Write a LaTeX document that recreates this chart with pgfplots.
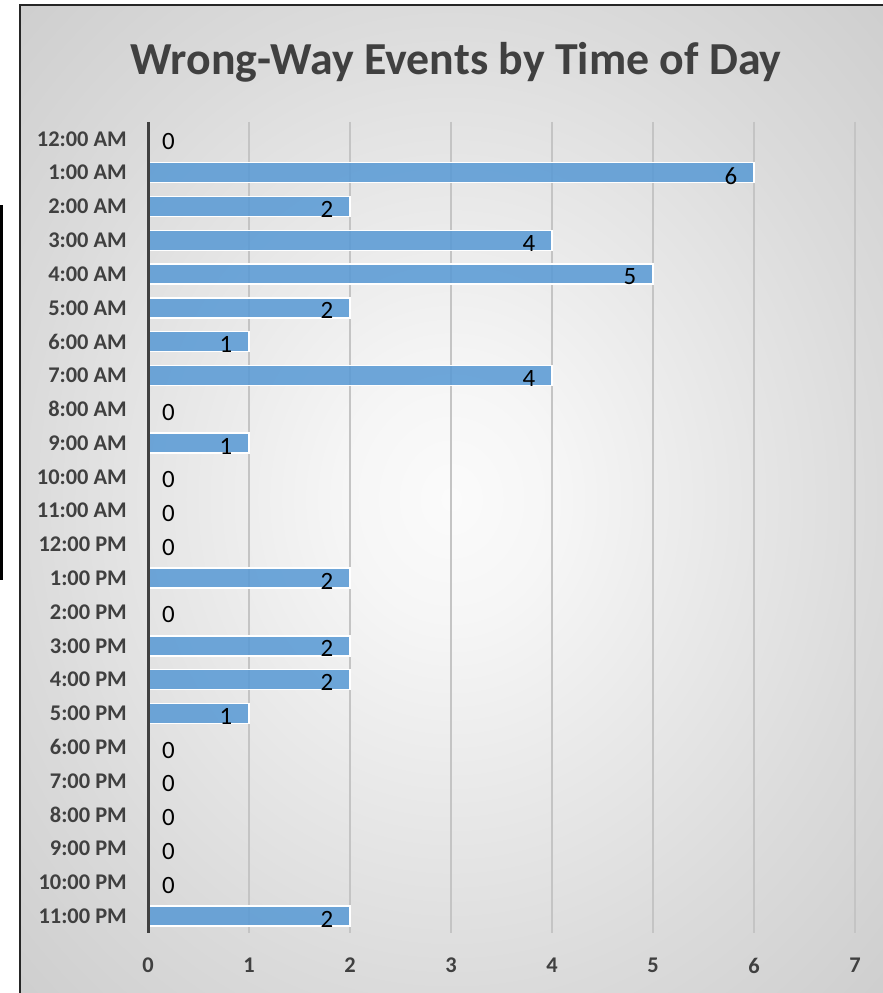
\documentclass[border=0pt]{standalone}
\usepackage{fontspec}
\setmainfont{Carlito}
\usepackage{pgfplots}
\pgfplotsset{compat=1.18}
\definecolor{txt}{HTML}{404040}
\definecolor{barblue}{HTML}{5B9BD5}
\definecolor{gridc}{HTML}{C4C4C4}
\definecolor{s0}{RGB}{251,251,251}
\definecolor{s1}{RGB}{246,246,246}
\definecolor{s2}{RGB}{233,233,233}
\definecolor{s3}{RGB}{219,219,219}
\definecolor{s4}{RGB}{207,207,207}
\definecolor{s5}{RGB}{198,198,198}
\definecolor{s6}{RGB}{189,189,189}
\pgfdeclareradialshading{bgshade}{\pgfpointorigin}{color(0bp)=(s0); color(6bp)=(s1); color(15bp)=(s2); color(25bp)=(s3); color(35bp)=(s4); color(50bp)=(s5); color(71bp)=(s6)}
\pgfplotsset{/pgf/number format/assume math mode=true}
\begin{document}
\begin{tikzpicture}[x=1bp,y=1bp]
\useasboundingbox (0,0) rectangle (883,993);
\shade[shading=bgshade] (19.5,0) rectangle (883,987.5);
\draw[line width=2bp, black!85] (19.5,0) -- (19.5,987.5) -- (884,987.5);
\fill[black] (0,413) rectangle (3,788);
\node[font=\fontsize{46}{50}\selectfont\bfseries, text=txt] at (456,931) {Wrong-Way Events by Time of Day};
\begin{axis}[
  at={(148bp,60bp)}, anchor=south west,
  width=707bp, height=811bp, scale only axis,
  xbar, bar width=20bp, bar shift=0pt,
  xmin=0, xmax=7, ymin=-0.5, ymax=23.5, y dir=reverse,
  axis line style={draw=none},
  xmajorgrids, grid style={draw=gridc, line width=1.3bp},
  major tick length=0pt,
  xtick={0,...,7},
  ytick={0,...,23},
  yticklabels={12:00 AM,1:00 AM,2:00 AM,3:00 AM,4:00 AM,5:00 AM,6:00 AM,7:00 AM,8:00 AM,9:00 AM,10:00 AM,11:00 AM,12:00 PM,1:00 PM,2:00 PM,3:00 PM,4:00 PM,5:00 PM,6:00 PM,7:00 PM,8:00 PM,9:00 PM,10:00 PM,11:00 PM},
  tick label style={font=\fontsize{22.5}{24}\selectfont\bfseries, text=txt, inner sep=0pt},
  yticklabel style={xshift=-21bp},
  xticklabel style={yshift=-25bp},
  nodes near coords,
  clip=false,
]
\addplot[fill=barblue, fill opacity=0.88, draw=white, line width=1.5bp,
  nodes near coords style={anchor=east, inner sep=0pt, xshift=-16bp, yshift=-3bp, font=\fontsize{25}{26}\selectfont, text=black, text opacity=1}]
  coordinates {(6,1) (2,2) (4,3) (5,4) (2,5) (1,6) (4,7) (1,9) (2,13) (2,15) (2,16) (1,17) (2,23)};
\addplot[draw=none, fill=none,
  nodes near coords style={anchor=west, inner sep=0pt, xshift=14bp, yshift=-3bp, font=\fontsize{25}{26}\selectfont, text=black}]
  coordinates {(0,0) (0,8) (0,10) (0,11) (0,12) (0,14) (0,18) (0,19) (0,20) (0,21) (0,22)};
\draw[txt, line width=3bp] (axis cs:0,-0.5) -- (axis cs:0,23.5);
\end{axis}
\end{tikzpicture}
\end{document}
